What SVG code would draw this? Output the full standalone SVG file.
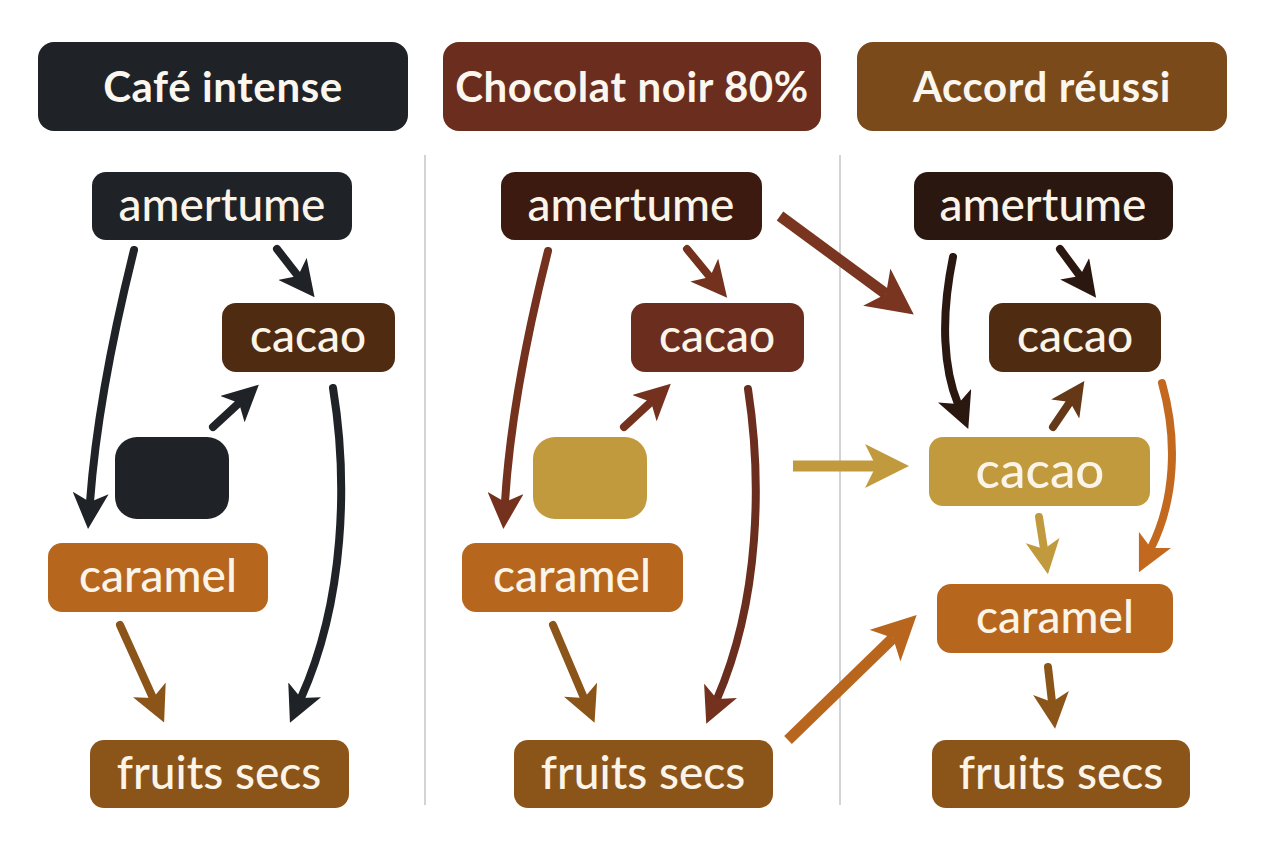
<svg xmlns="http://www.w3.org/2000/svg" width="1264" height="848" viewBox="0 0 1264 848">
<style>
.hd{font-family:Lato,"Open Sans",sans-serif;font-weight:700;font-size:42px;fill:#fbf6ee;text-anchor:middle;letter-spacing:0.6px}
.nt{font-family:Lato,"Open Sans",sans-serif;font-weight:500;font-size:46px;fill:#fbf4e8;text-anchor:middle}
.ln{fill:none;stroke-linecap:round}
.dv{stroke:#d4d4d4;stroke-width:2}
</style>
<defs>
<marker id="mDark" viewBox="0 0 12 12" refX="3" refY="6" markerWidth="36" markerHeight="36" markerUnits="userSpaceOnUse" orient="auto"><path d="M0,0 L12,6 L0,12 L3,6 z" fill="#1f2226"/></marker>
<marker id="mRed" viewBox="0 0 12 12" refX="3" refY="6" markerWidth="36" markerHeight="36" markerUnits="userSpaceOnUse" orient="auto"><path d="M0,0 L12,6 L0,12 L3,6 z" fill="#74321e"/></marker>
<marker id="mRedL" viewBox="0 0 12 12" refX="3" refY="6" markerWidth="46" markerHeight="46" markerUnits="userSpaceOnUse" orient="auto"><path d="M0,0 L12,6 L0,12 L3,6 z" fill="#7a3520"/></marker>
<marker id="mBrown" viewBox="0 0 12 12" refX="3" refY="6" markerWidth="36" markerHeight="36" markerUnits="userSpaceOnUse" orient="auto"><path d="M0,0 L12,6 L0,12 L3,6 z" fill="#8b5519"/></marker>
<marker id="mGoldL" viewBox="0 0 12 12" refX="3" refY="6" markerWidth="44" markerHeight="44" markerUnits="userSpaceOnUse" orient="auto"><path d="M0,0 L12,6 L0,12 L3,6 z" fill="#c19a3d"/></marker>
<marker id="mGold" viewBox="0 0 12 12" refX="3" refY="6" markerWidth="34" markerHeight="34" markerUnits="userSpaceOnUse" orient="auto"><path d="M0,0 L12,6 L0,12 L3,6 z" fill="#c19a3d"/></marker>
<marker id="mOrangeL" viewBox="0 0 12 12" refX="3" refY="6" markerWidth="44" markerHeight="44" markerUnits="userSpaceOnUse" orient="auto"><path d="M0,0 L12,6 L0,12 L3,6 z" fill="#b8661e"/></marker>
<marker id="mOrange" viewBox="0 0 12 12" refX="3" refY="6" markerWidth="36" markerHeight="36" markerUnits="userSpaceOnUse" orient="auto"><path d="M0,0 L12,6 L0,12 L3,6 z" fill="#c2691f"/></marker>
<marker id="mDeep" viewBox="0 0 12 12" refX="3" refY="6" markerWidth="36" markerHeight="36" markerUnits="userSpaceOnUse" orient="auto"><path d="M0,0 L12,6 L0,12 L3,6 z" fill="#2a1710"/></marker>
<marker id="mMid" viewBox="0 0 12 12" refX="3" refY="6" markerWidth="34" markerHeight="34" markerUnits="userSpaceOnUse" orient="auto"><path d="M0,0 L12,6 L0,12 L3,6 z" fill="#653817"/></marker>
</defs>
<rect width="1264" height="848" fill="#ffffff"/>
<g id="dividers">
<line class="dv" x1="425" y1="155" x2="425" y2="805"/>
<line class="dv" x1="840" y1="155" x2="840" y2="805"/>
</g>
<g id="header-cafe"><rect x="38" y="42" width="370" height="89" rx="16" fill="#1f2226"/><text class="hd" x="223" y="102">Café intense</text></g>
<g id="header-chocolat"><rect x="443" y="42" width="378" height="89" rx="16" fill="#6b2d1e"/><text class="hd" x="632" y="102">Chocolat noir 80%</text></g>
<g id="header-accord"><rect x="857" y="42" width="370" height="89" rx="16" fill="#7b4a1a"/><text class="hd" x="1042" y="102">Accord réussi</text></g>

<g id="connectors">
<!-- column 1 -->
<path class="ln" d="M134,250 C114,330 96,420 90,502" stroke="#1f2226" stroke-width="8" marker-end="url(#mDark)"/>
<path class="ln" d="M277,249 L298,276" stroke="#1f2226" stroke-width="8" marker-end="url(#mDark)"/>
<path class="ln" d="M213,427 L239,403" stroke="#1f2226" stroke-width="8" marker-end="url(#mDark)"/>
<path class="ln" d="M333,388 C348,480 345,600 301,698" stroke="#1f2226" stroke-width="8" marker-end="url(#mDark)"/>
<path class="ln" d="M120,625 L153,698" stroke="#8b5519" stroke-width="8" marker-end="url(#mBrown)"/>
<!-- column 2 -->
<path class="ln" d="M548,251 C528,330 510,420 505,502" stroke="#74321e" stroke-width="8" marker-end="url(#mRed)"/>
<path class="ln" d="M687,249 L710,277" stroke="#74321e" stroke-width="8" marker-end="url(#mRed)"/>
<path class="ln" d="M624,427 L651,402" stroke="#74321e" stroke-width="8" marker-end="url(#mRed)"/>
<path class="ln" d="M748,389 C762,480 760,600 717,699" stroke="#6b2d1e" stroke-width="8" marker-end="url(#mRed)"/>
<path class="ln" d="M553,625 L584,698" stroke="#8b5519" stroke-width="8" marker-end="url(#mBrown)"/>
<!-- cross-column -->
<path d="M780,216 L886,294" fill="none" stroke="#7a3520" stroke-width="11" marker-end="url(#mRedL)"/>
<path d="M793,466 L876,466" fill="none" stroke="#c19a3d" stroke-width="11" marker-end="url(#mGoldL)"/>
<path d="M788,740 L893,638" fill="none" stroke="#b8661e" stroke-width="11" marker-end="url(#mOrangeL)"/>
<!-- column 3 -->
<path class="ln" d="M953,257 C940,320 944,370 958,404" stroke="#2a1710" stroke-width="8" marker-end="url(#mDeep)"/>
<path class="ln" d="M1060,249 L1080,276" stroke="#2a1710" stroke-width="8" marker-end="url(#mDeep)"/>
<path class="ln" d="M1053,427 L1070,402" stroke="#653817" stroke-width="8" marker-end="url(#mMid)"/>
<path class="ln" d="M1162,383 C1178,440 1175,500 1151,548" stroke="#c2691f" stroke-width="8" marker-end="url(#mOrange)"/>
<path class="ln" d="M1039,517 L1044,549" stroke="#c19a3d" stroke-width="8" marker-end="url(#mGold)"/>
<path class="ln" d="M1048,667 L1052,702" stroke="#8b5519" stroke-width="8" marker-end="url(#mBrown)"/>
</g>

<!-- column 1 nodes -->
<g id="c1-amertume"><rect x="92" y="172" width="260" height="68" rx="14" fill="#1f2226"/><text class="nt" x="222" y="221">amertume</text></g>
<g id="c1-cacao"><rect x="222" y="303" width="173" height="69" rx="14" fill="#4f2b12"/><text class="nt" x="308" y="352">cacao</text></g>
<g id="c1-empty"><rect x="115" y="437" width="114" height="82" rx="22" fill="#1f2226"/></g>
<g id="c1-caramel"><rect x="48" y="543" width="220" height="69" rx="14" fill="#b7661e"/><text class="nt" x="158" y="592">caramel</text></g>
<g id="c1-fruits"><rect x="90" y="740" width="259" height="68" rx="14" fill="#8b5519"/><text class="nt" x="219" y="789">fruits secs</text></g>

<!-- column 2 nodes -->
<g id="c2-amertume"><rect x="501" y="172" width="261" height="68" rx="14" fill="#3d1a10"/><text class="nt" x="631" y="221">amertume</text></g>
<g id="c2-cacao"><rect x="631" y="303" width="173" height="69" rx="14" fill="#6b2d1e"/><text class="nt" x="717" y="352">cacao</text></g>
<g id="c2-empty"><rect x="533" y="437" width="114" height="82" rx="22" fill="#c19a3d"/></g>
<g id="c2-caramel"><rect x="462" y="543" width="221" height="69" rx="14" fill="#b7661e"/><text class="nt" x="572" y="592">caramel</text></g>
<g id="c2-fruits"><rect x="514" y="740" width="259" height="68" rx="14" fill="#8b5519"/><text class="nt" x="643" y="789">fruits secs</text></g>

<!-- column 3 nodes -->
<g id="c3-amertume"><rect x="914" y="172" width="259" height="68" rx="14" fill="#2a1710"/><text class="nt" x="1043" y="221">amertume</text></g>
<g id="c3-cacao"><rect x="989" y="303" width="172" height="69" rx="14" fill="#4f2b12"/><text class="nt" x="1075" y="352">cacao</text></g>
<g id="c3-cacao-gold"><rect x="929" y="437" width="221" height="69" rx="14" fill="#c19a3d"/><text class="nt" x="1040" y="488" style="font-size:51px">cacao</text></g>
<g id="c3-caramel"><rect x="937" y="584" width="236" height="69" rx="14" fill="#b7661e"/><text class="nt" x="1055" y="633">caramel</text></g>
<g id="c3-fruits"><rect x="932" y="740" width="258" height="68" rx="14" fill="#8b5519"/><text class="nt" x="1061" y="789">fruits secs</text></g>
</svg>
